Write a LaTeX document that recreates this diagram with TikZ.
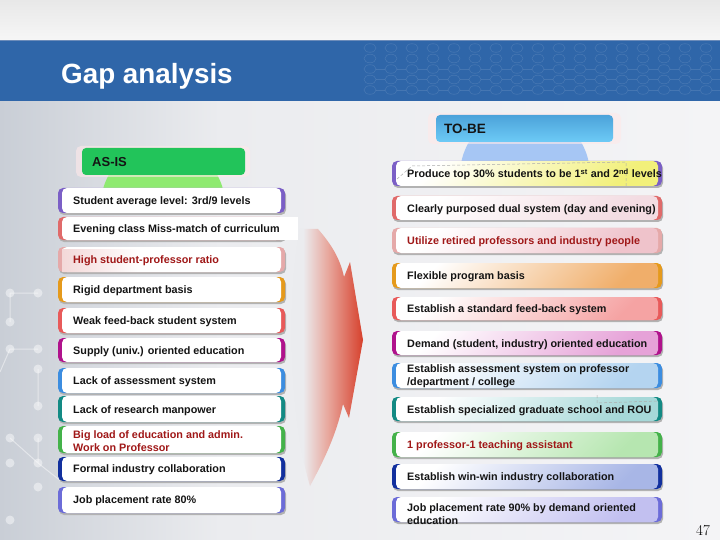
\documentclass[tikz,border=0pt]{standalone}
\usepackage{fontspec}
\setsansfont{Liberation Sans}
\definecolor{band}{HTML}{2F66A9}
\definecolor{bandline}{HTML}{6C8CBA}
\definecolor{bgL}{HTML}{C9CED6}
\definecolor{bgM}{HTML}{EBECEF}
\definecolor{bgR}{HTML}{F4F4F6}
\definecolor{asis}{HTML}{22C45A}
\definecolor{asisdome}{HTML}{8EEA70}
\definecolor{tobeT}{HTML}{4CA2DA}
\definecolor{tobeB}{HTML}{6DCBF6}
\definecolor{tobedome}{HTML}{A6C6F4}
\definecolor{txtdark}{HTML}{141414}
\definecolor{txtred}{HTML}{A01818}
\definecolor{arrowred}{HTML}{D6402C}
\definecolor{arrowmid}{HTML}{E8A89E}
\definecolor{capA}{HTML}{7B5FC6}
\definecolor{capB}{HTML}{E06A6A}
\definecolor{capC}{HTML}{E5A9A9}
\definecolor{capD}{HTML}{E59A1C}
\definecolor{capE}{HTML}{E85A5A}
\definecolor{capF}{HTML}{B0128C}
\definecolor{capG}{HTML}{3C8DE0}
\definecolor{capH}{HTML}{138A84}
\definecolor{capI}{HTML}{44B24A}
\definecolor{capJ}{HTML}{12309E}
\definecolor{capK}{HTML}{6C6CD8}
\definecolor{fillA}{HTML}{F2F07A}
\definecolor{fillB}{HTML}{F3DCE2}
\definecolor{fillC}{HTML}{EFC3CB}
\definecolor{fillD}{HTML}{F0AE6A}
\definecolor{fillE}{HTML}{F5A3A3}
\definecolor{fillF}{HTML}{E6A2D8}
\definecolor{fillG}{HTML}{B4D4F0}
\definecolor{fillH}{HTML}{A6D8D8}
\definecolor{fillI}{HTML}{B6E6B0}
\definecolor{fillJ}{HTML}{A8B6E6}
\definecolor{fillK}{HTML}{C2C0F0}
\pgfdeclarehorizontalshading{arrowshade}{100bp}{color(0bp)=(bgM); color(25bp)=(bgM); color(36bp)=(bgM); color(52bp)=(arrowmid); color(75bp)=(arrowred); color(100bp)=(arrowred)}
\tikzset{
  lbl/.style={anchor=base west, inner sep=0pt, font=\sffamily\bfseries\fontsize{10.8}{12.5}\selectfont, text=txtdark},
  lbltwo/.style={anchor=west, inner sep=0pt, align=left, font=\sffamily\bfseries\fontsize{10.8}{12.5}\selectfont, text=txtdark},
  shadowbox/.style={fill=gray!60, rounded corners=5pt},
  artdash/.style={draw=gray!65, line width=0.5pt, dash pattern=on 3pt off 2pt},
}
\newcommand\gapL[3]{%
  \fill[shadowbox] (59,#1+2) rectangle (286,#2+2);
  \fill[#3, rounded corners=5pt] (58,#1) rectangle (285,#2);
  \fill[white, rounded corners=5pt] (62,#1) rectangle (281,#2);
}
\newcommand\gapR[4]{%
  \fill[shadowbox] (393,#1+2) rectangle (663,#2+2);
  \fill[#3, rounded corners=5pt] (392,#1) rectangle (662,#2);
  \shade[rounded corners=5pt, top color=white, bottom color=#4, shading angle=45] (396,#1) rectangle (658,#2);
}
\begin{document}
\begin{tikzpicture}[x=1pt, y=-1pt]
\useasboundingbox (0,0) rectangle (720,540);
% background
\shade[top color=gray!18, bottom color=gray!7] (0,0) rectangle (720,40);
\shade[left color=bgL, right color=bgM] (0,100) rectangle (220,540);
\shade[left color=bgM, right color=bgR] (220,100) rectangle (720,540);
% header band
\fill[band] (0,40) rectangle (720,101);
\draw[bandline, line width=1.2pt] (0,40.6) -- (720,40.6);
\begin{scope}[draw=white, opacity=0.11, line width=0.6pt]
  \foreach \yy in {48,58.5,69,79.5,90} {
    \foreach \xx in {370,391,...,730} {
      \draw (\xx,\yy) ellipse (6pt and 4.3pt);
    }
  }
  \foreach \yy in {69,79.5,90} {
    \foreach \xx in {370,391,...,710} {
      \draw (\xx+6,\yy) -- (\xx+15,\yy);
    }
  }
\end{scope}
\node[anchor=base west, inner sep=0pt, text=white, font=\sffamily\bfseries\fontsize{27.8}{30}\selectfont] (title) at (61,84) {Gap analysis};
% left network dots
\begin{scope}[white, opacity=0.45]
  \draw[line width=1pt] (10,293) -- (38,293) (10,293) -- (10,322) (0,372) -- (10,349) -- (38,349)
        (38,369) -- (38,406) (10,438) -- (38,463) (38,438) -- (38,463) -- (62,482);
  \foreach \p in {(10,293),(38,293),(10,322),(10,349),(38,349),(38,369),(38,406),(10,438),(38,438),(10,463),(38,463),(38,487),(10,520)}
    \fill \p circle (4.5pt);
\end{scope}
% AS-IS header
\begin{scope}
  \clip (80,170) rectangle (250,188);
  \fill[asisdome] (163,205) circle (62pt);
\end{scope}
\fill[pink!35, opacity=0.6, rounded corners=5pt] (76,146) rectangle (250,177);
\fill[asis, rounded corners=4pt] (82,148) rectangle (245,175);
\node[anchor=base west, inner sep=0pt, text=txtdark, font=\sffamily\bfseries\fontsize{13}{14}\selectfont] (asis) at (92,167) {AS-IS};
% TO-BE header
\begin{scope}
  \clip (420,138) rectangle (620,161);
  \fill[tobedome] (525,175) circle (65pt);
\end{scope}
\fill[pink!35, opacity=0.6, rounded corners=5pt] (428,113) rectangle (621,144);
\shade[top color=tobeT, bottom color=tobeB, rounded corners=4pt] (436,115) rectangle (613,142);
\node[anchor=base west, inner sep=0pt, text=txtdark, font=\sffamily\bfseries\fontsize{13.5}{14}\selectfont] (tobe) at (444,134) {TO-BE};
% arrow
\shade[shading=arrowshade]
  (300,229) -- (318,229) .. controls (331,244) and (340,258) .. (344,277)
  -- (350,262) -- (363,340) -- (349,418) -- (343,404)
  .. controls (336,436) and (323,462) .. (310,486)
  .. controls (290,420) and (286,300) .. (300,229) -- cycle;
% left boxes
\gapL{188}{213}{capA}
\node[lbl] (l1) at (73,204.5) {Student average level: 3rd/9 levels};
\gapL{217}{240}{capB}
\fill[white] (274,217) rectangle (298,239.5);
\node[lbl] (l2) at (73,232.5) {Evening class Miss-match of curriculum};
\gapL{247}{272}{capC}
\shade[left color=capC!45!white, right color=white] (62,249) rectangle (140,271);
\node[lbl, text=txtred] (l3) at (73,263.5) {High student-professor ratio};
\gapL{277}{302}{capD}
\node[lbl] (l4) at (73,293.5) {Rigid department basis};
\gapL{308}{333}{capE}
\node[lbl] (l5) at (73,324.5) {Weak feed-back student system};
\gapL{338}{362}{capF}
\node[lbl] (l6) at (73,354) {Supply (univ.) oriented education};
\gapL{368}{393}{capG}
\node[lbl] (l7) at (73,384.5) {Lack of assessment system};
\gapL{396}{422}{capH}
\node[lbl] (l8) at (73,413) {Lack of research manpower};
\gapL{426}{453}{capI}
\node[lbltwo, text=txtred] (l9) at (73,441) {Big load of education and admin.\\Work on Professor};
\gapL{457}{481}{capJ}
\node[lbl] (l10) at (73,472.5) {Formal industry collaboration};
\gapL{487}{513}{capK}
\node[lbl] (l11) at (73,503.5) {Job placement rate 80\%};
% right boxes
\gapR{161}{186}{capA}{fillA}
\draw[artdash] (397,179) -- (412,166) -- (626,162) -- (626,186);
\node[lbl] (r1) at (407,178) {Produce top 30\% students to be 1\textsuperscript{st} and 2\textsuperscript{nd} levels};
\gapR{196}{220}{capB}{fillB}
\node[lbl] (r2) at (407,212) {Clearly purposed dual system (day and evening)};
\gapR{228}{253}{capC}{fillC}
\node[lbl, text=txtred] (r3) at (407,244.5) {Utilize retired professors and industry people};
\gapR{263}{288}{capD}{fillD}
\node[lbl] (r4) at (407,279.5) {Flexible program basis};
\gapR{297}{320}{capE}{fillE}
\node[lbl] (r5) at (407,312.5) {Establish a standard feed-back system};
\gapR{331}{355}{capF}{fillF}
\node[lbl] (r6) at (407,347) {Demand (student, industry) oriented education};
\gapR{363}{388}{capG}{fillG}
\node[lbltwo] (r7) at (407,376) {Establish assessment system on professor\\/department / college};
\gapR{397}{421}{capH}{fillH}
\draw[artdash] (597,395) -- (597,403) -- (658,401);
\node[lbl] (r8) at (407,413) {Establish specialized graduate school and ROU};
\gapR{432}{457}{capI}{fillI}
\node[lbl, text=txtred] (r9) at (407,448.5) {1 professor-1 teaching assistant};
\gapR{464}{489}{capJ}{fillJ}
\node[lbl] (r10) at (407,480.5) {Establish win-win industry collaboration};
\gapR{497}{522}{capK}{fillK}
\node[lbltwo] (r11) at (407,514) {Job placement rate 90\% by demand oriented\\education};
% page number
\node[anchor=base west, inner sep=0pt, font=\rmfamily\fontsize{15}{15}\selectfont] (pg) at (696,535) {47};
\end{tikzpicture}
\end{document}
